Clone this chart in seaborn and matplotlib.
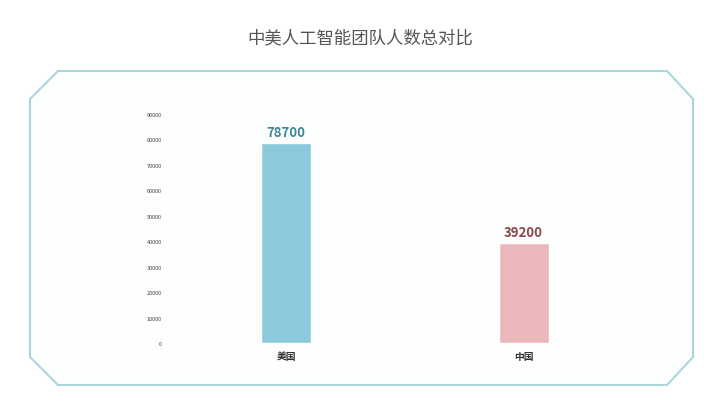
import matplotlib
matplotlib.use("Agg")
import matplotlib.pyplot as plt
from matplotlib.patches import Polygon
import pandas as pd
import seaborn as sns

countries = ["美国", "中国"]
team_size = [78700, 39200]
bar_colors = ["#8ccadb", "#eab7bb"]
label_colors = ["#3d8796", "#8e4449"]
y_ticks = [0, 10000, 20000, 30000, 40000, 50000, 60000, 70000, 80000, 90000]

sns.set_theme(style="white")
plt.rcParams['font.family'] = ['Noto Sans CJK SC', 'DejaVu Sans']

W, H = 720, 414
fig = plt.figure(figsize=(W / 100, H / 100), dpi=100)
fig.patch.set_facecolor("white")

# octagon-ish frame, drawn in pixel coords then mapped to figure fraction
frame_px = [(58, 72), (667, 72), (693, 100), (693, 358),
            (667, 386), (58, 386), (30, 358), (30, 100)]
frame = Polygon([(x / W, 1 - y / H) for x, y in frame_px], closed=True,
                transform=fig.transFigure, facecolor="#fdfefe",
                edgecolor="#a9d7dc", linewidth=1.5, zorder=0)
fig.add_artist(frame)

fig.text(0.5, 1 - 38 / H, "中美人工智能团队人数总对比", ha="center", va="center",
         fontsize=12.5, color="#555555")

ax = fig.add_axes([170 / W, (H - 344) / H, 470 / W, 229 / H])
ax.patch.set_alpha(0)

df = pd.DataFrame({"country": countries, "team": team_size})
sns.barplot(data=df, x="country", y="team", hue="country", palette=bar_colors,
            width=0.21, legend=False, ax=ax, saturation=1)

for i, v in enumerate(team_size):
    ax.text(i, v + 1500, str(v), ha="center", va="bottom", fontsize=9.5,
            fontweight="bold", color=label_colors[i])

ax.set_xlim(-0.49, 1.49)
ax.set_ylim(0, 90000)
ax.set_yticks(y_ticks)
ax.set_yticklabels([str(t) for t in y_ticks], fontsize=4, color="#444444")
ax.tick_params(axis="y", length=0, pad=6)
ax.tick_params(axis="x", length=0, pad=6)
for lbl in ax.get_xticklabels():
    lbl.set_fontsize(7)
    lbl.set_fontweight("bold")
    lbl.set_color("#333333")
ax.set_xlabel("")
ax.set_ylabel("")
sns.despine(ax=ax, left=True, bottom=True)

fig.savefig("out.png", dpi=100, facecolor="white")
